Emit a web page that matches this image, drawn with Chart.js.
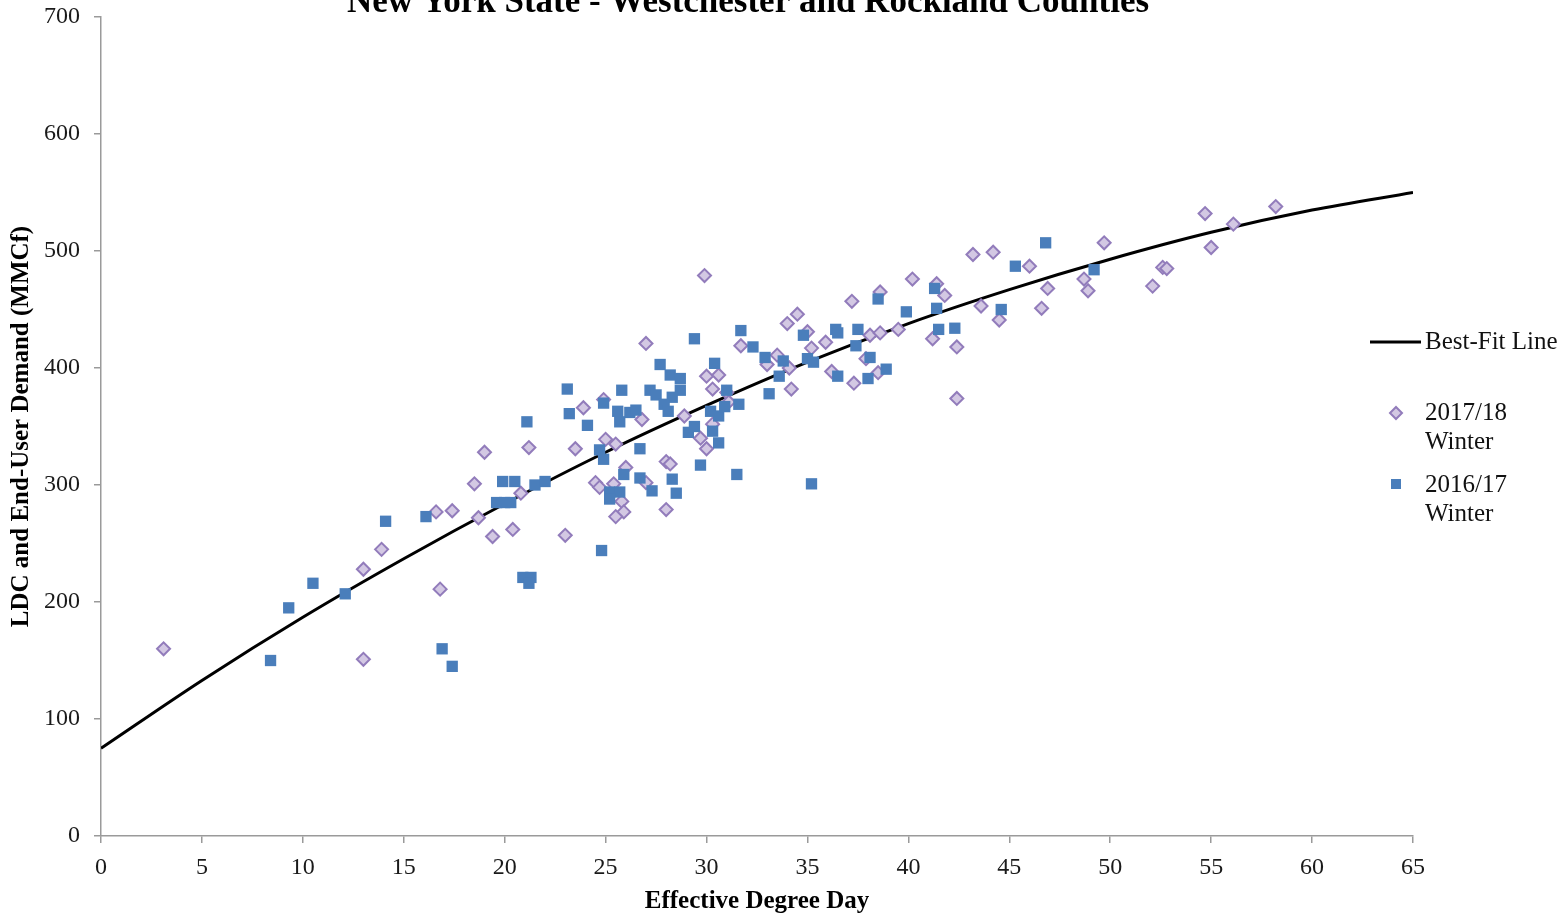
<!DOCTYPE html>
<html>
<head>
<meta charset="utf-8">
<script src="https://cdn.jsdelivr.net/npm/chart.js@4/dist/chart.umd.min.js"></script>
<style>
  html, body { margin: 0; padding: 0; background: #ffffff; }
  #wrap { width: 1568px; height: 917px; position: relative; }
</style>
</head>
<body>
<div id="wrap"><canvas id="c" width="1568" height="917"></canvas></div>
<script>
// ---- Data ----
const chartTitle = "New York State - Westchester and Rockland Counties";
const xAxisTitle = "Effective Degree Day";
const yAxisTitle = "LDC and End-User Demand (MMCf)";

const xTickValues = [0, 5, 10, 15, 20, 25, 30, 35, 40, 45, 50, 55, 60, 65];
const yTickValues = [0, 100, 200, 300, 400, 500, 600, 700];

// Best-fit line, read at every 5 degree days
const fitX = [0, 5, 10, 15, 20, 25, 30, 35, 40, 45, 50, 55, 60, 65];
const fitY = [75, 133, 187, 237, 284, 328, 368, 405, 438, 467, 493, 516, 535, 550];

// 2017/18 Winter (diamonds)
const w1718X = [3.1,13.0,13.0,13.9,16.6,16.8,17.4,18.5,19.0,18.7,19.4,20.4,20.8,21.2,23.0,23.5,23.9,24.5,24.7,24.9,25.0,25.5,25.4,25.8,25.9,25.5,26.0,27.0,26.8,27.0,28.0,28.2,28.0,28.9,30.0,30.6,30.3,29.7,30.0,30.3,31.0,31.1,31.7,29.9,33.0,33.5,34.0,34.5,34.1,34.2,35.0,35.2,35.9,36.2,37.3,37.9,37.2,38.1,38.6,38.5,38.6,39.5,40.2,41.2,41.4,41.8,42.4,42.4,43.2,44.2,43.6,44.5,46.0,46.9,46.6,48.7,48.9,49.7,52.1,52.6,52.8,54.7,55.0,56.1,58.2];
const w1718Y = [160,228,151,245,277,211,278,301,328,272,256,262,293,332,257,331,366,302,298,373,339,335,301,286,277,273,315,421,356,302,320,318,279,359,393,394,382,340,331,352,379,371,419,479,403,411,438,446,400,382,431,417,422,397,387,408,457,428,430,396,465,433,476,425,472,462,418,374,497,499,453,441,487,468,451,476,466,507,470,486,485,532,503,523,538];

// 2016/17 Winter (squares)
const w1617X = [8.4,9.3,10.5,12.1,14.1,16.1,16.9,17.4,19.6,20.0,20.3,19.9,20.5,21.1,21.5,22.0,20.9,21.3,21.2,23.1,23.2,24.1,24.9,24.7,24.9,24.8,25.6,25.7,25.8,25.9,25.2,25.7,25.2,26.2,26.5,26.7,26.7,27.3,27.7,28.2,28.7,27.2,27.5,28.7,28.3,27.9,28.1,28.3,28.5,29.4,29.7,29.1,29.4,30.4,30.2,30.6,30.9,31.0,30.3,30.6,31.5,31.6,31.7,32.3,32.9,33.8,33.6,33.1,34.8,35.0,35.3,35.2,36.4,36.5,37.5,37.4,36.5,38.1,38.0,38.9,38.5,39.9,41.3,41.4,41.5,42.3,44.6,45.3,46.8,49.2];
const w1617Y = [150,195,216,207,269,273,160,145,285,285,285,303,303,354,300,303,221,221,216,382,361,351,370,330,322,244,363,354,381,309,294,294,288,362,364,331,306,295,403,394,391,381,377,381,375,369,363,305,293,425,317,345,350,404,363,359,367,381,346,336,309,369,432,418,409,406,393,378,428,408,405,301,433,430,433,419,393,409,391,399,459,448,468,451,433,434,450,487,507,484];

const seriesLabels = ["Best-Fit Line", "2017/18 Winter", "2016/17 Winter"];

// ---- Styles ----
const SERIF = "'Liberation Serif', 'Times New Roman', serif";
const AXIS_GRAY = "#9a9a9a";
const DIAMOND_FILL = "#d3c8e3";
const DIAMOND_EDGE = "#927cbb";
const SQUARE_FILL = "#4a7ebb";

const toPts = (xs, ys) => xs.map((x, i) => ({ x: x, y: ys[i] }));

// Title drawn at top (cut off as in the reference)
const titlePlugin = {
  id: 'topTitle',
  afterDraw(chart) {
    const ctx = chart.ctx;
    ctx.save();
    ctx.font = "bold 35px " + SERIF;
    ctx.fillStyle = "#000";
    ctx.textAlign = "center";
    ctx.textBaseline = "alphabetic";
    ctx.fillText(chartTitle, 748, 12);
    ctx.restore();
  }
};

// Legend on the right, Excel-style
const legendPlugin = {
  id: 'sideLegend',
  afterDraw(chart) {
    const ctx = chart.ctx;
    const ds = chart.data.datasets;
    const byLabel = l => ds.find(d => d.label === l);
    ctx.save();
    ctx.font = "25px " + SERIF;
    ctx.fillStyle = "#111";
    ctx.textAlign = "left";
    ctx.textBaseline = "middle";
    const textX = 1425;
    // line
    const lineDs = byLabel(seriesLabels[0]);
    ctx.strokeStyle = lineDs.borderColor;
    ctx.lineWidth = 3;
    ctx.beginPath(); ctx.moveTo(1370, 342); ctx.lineTo(1421, 342); ctx.stroke();
    ctx.fillText(lineDs.label, textX, 342);
    // diamond
    const dDs = byLabel(seriesLabels[1]);
    ctx.beginPath();
    ctx.moveTo(1396, 413 - 6); ctx.lineTo(1402, 413); ctx.lineTo(1396, 413 + 6); ctx.lineTo(1390, 413); ctx.closePath();
    ctx.fillStyle = dDs.backgroundColor; ctx.fill();
    ctx.strokeStyle = dDs.borderColor; ctx.lineWidth = 2; ctx.stroke();
    ctx.fillStyle = "#111";
    const dParts = dDs.label.split(" ");
    ctx.fillText(dParts[0], textX, 413);
    ctx.fillText(dParts.slice(1).join(" "), textX, 442);
    // square
    const sDs = byLabel(seriesLabels[2]);
    ctx.fillStyle = sDs.backgroundColor;
    ctx.fillRect(1391, 479, 10, 10);
    ctx.fillStyle = "#111";
    const sParts = sDs.label.split(" ");
    ctx.fillText(sParts[0], textX, 485);
    ctx.fillText(sParts.slice(1).join(" "), textX, 514);
    ctx.restore();
  }
};

new Chart(document.getElementById('c'), {
  type: 'scatter',
  data: {
    datasets: [
      {
        label: seriesLabels[2],
        data: toPts(w1617X, w1617Y),
        pointStyle: 'rect',
        pointRadius: 8,
        pointBackgroundColor: SQUARE_FILL,
        backgroundColor: SQUARE_FILL,
        borderColor: SQUARE_FILL,
        pointBorderWidth: 0,
        order: 0
      },
      {
        label: seriesLabels[1],
        data: toPts(w1718X, w1718Y),
        pointStyle: 'rectRot',
        pointRadius: 6.5,
        pointBorderWidth: 2,
        backgroundColor: DIAMOND_FILL,
        borderColor: DIAMOND_EDGE,
        order: 1
      },
      {
        label: seriesLabels[0],
        data: toPts(fitX, fitY),
        showLine: true,
        pointRadius: 0,
        borderColor: '#000000',
        backgroundColor: '#000000',
        borderWidth: 3,
        cubicInterpolationMode: 'monotone',
        order: 2
      }
    ]
  },
  options: {
    responsive: false,
    animation: false,
    events: [],
    layout: { padding: { left: 0, top: 17, right: 155, bottom: 0 } },
    plugins: {
      legend: { display: false },
      tooltip: { enabled: false },
      title: { display: false }
    },
    scales: {
      x: {
        type: 'linear',
        min: 0, max: 65,
        afterBuildTicks: s => { s.ticks = xTickValues.map(v => ({ value: v })); },
        afterFit: s => { s.height = 81; s.paddingLeft = 0; s.paddingRight = 0; },
        ticks: { font: { family: SERIF, size: 24 }, color: '#1a1a1a', padding: 10, maxRotation: 0 },
        grid: { drawOnChartArea: false, drawTicks: true, tickLength: 7, color: AXIS_GRAY, lineWidth: 1.5 },
        border: { display: true, color: AXIS_GRAY, width: 1.5 },
        title: { display: true, text: xAxisTitle, font: { family: SERIF, size: 25, weight: 'bold' }, color: '#000', padding: { top: 0, bottom: 0 } }
      },
      y: {
        type: 'linear',
        min: 0, max: 700,
        afterBuildTicks: s => { s.ticks = yTickValues.map(v => ({ value: v })); },
        afterFit: s => { s.width = 101; s.paddingTop = 0; s.paddingBottom = 0; },
        ticks: { font: { family: SERIF, size: 24 }, color: '#1a1a1a', padding: 14 },
        grid: { drawOnChartArea: false, drawTicks: true, tickLength: 7, color: AXIS_GRAY, lineWidth: 1.5 },
        border: { display: true, color: AXIS_GRAY, width: 1.5 },
        title: { display: true, text: yAxisTitle, font: { family: SERIF, size: 25, weight: 'bold' }, color: '#000', padding: { top: 7, bottom: 0 } }
      }
    }
  },
  plugins: [titlePlugin, legendPlugin]
});
</script>
</body>
</html>
